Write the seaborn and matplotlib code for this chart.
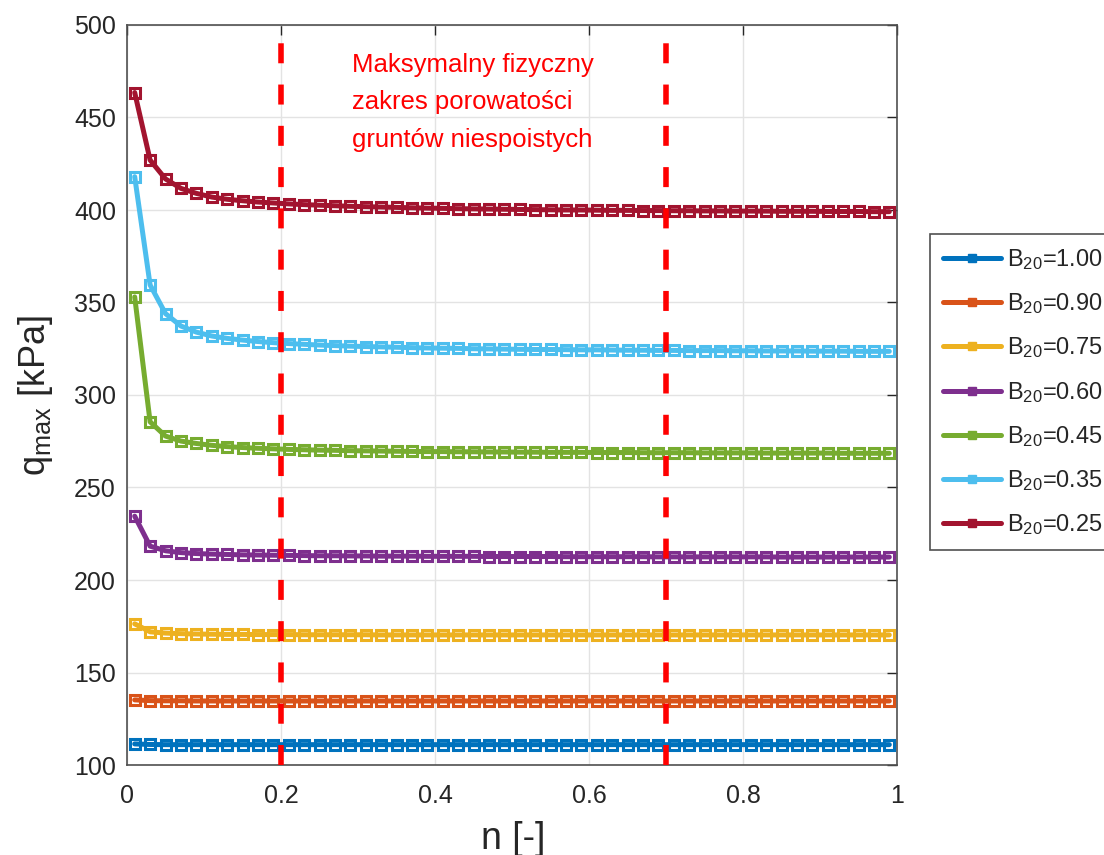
import numpy as np
import pandas as pd
import matplotlib
matplotlib.use("Agg")
import matplotlib.pyplot as plt
from matplotlib.lines import Line2D
import seaborn as sns

# Porosity n [-]
porosity = [0.01, 0.03, 0.05, 0.07, 0.09, 0.11, 0.13, 0.15, 0.17, 0.19,
            0.21, 0.23, 0.25, 0.27, 0.29, 0.31, 0.33, 0.35, 0.37, 0.39,
            0.41, 0.43, 0.45, 0.47, 0.49, 0.51, 0.53, 0.55, 0.57, 0.59,
            0.61, 0.63, 0.65, 0.67, 0.69, 0.71, 0.73, 0.75, 0.77, 0.79,
            0.81, 0.83, 0.85, 0.87, 0.89, 0.91, 0.93, 0.95, 0.97, 0.99]

# Maximum load q_max [kPa] for each B20 value
q_b100 = [111.4, 111.1, 111.0, 111.0, 111.0, 111.0, 111.0, 111.0, 111.0, 111.0,
          111.0, 111.0, 111.0, 111.0, 111.0, 111.0, 111.0, 111.0, 111.0, 111.0,
          111.0, 111.0, 111.0, 111.0, 111.0, 111.0, 111.0, 111.0, 111.0, 111.0,
          111.0, 111.0, 111.0, 111.0, 111.0, 111.0, 111.0, 111.0, 111.0, 111.0,
          111.0, 111.0, 111.0, 111.0, 111.0, 111.0, 111.0, 111.0, 111.0, 111.0]
q_b090 = [135.2, 134.8, 134.7, 134.7, 134.6, 134.6, 134.6, 134.6, 134.6, 134.6,
          134.6, 134.6, 134.6, 134.6, 134.6, 134.6, 134.6, 134.6, 134.6, 134.6,
          134.6, 134.6, 134.6, 134.6, 134.6, 134.6, 134.6, 134.6, 134.6, 134.6,
          134.6, 134.6, 134.6, 134.6, 134.6, 134.6, 134.6, 134.6, 134.6, 134.6,
          134.6, 134.6, 134.6, 134.6, 134.6, 134.6, 134.6, 134.6, 134.6, 134.6]
q_b075 = [176.3, 172.0, 171.3, 171.0, 170.8, 170.7, 170.6, 170.6, 170.5, 170.5,
          170.5, 170.4, 170.4, 170.4, 170.4, 170.4, 170.3, 170.3, 170.3, 170.3,
          170.3, 170.3, 170.3, 170.3, 170.3, 170.3, 170.3, 170.3, 170.3, 170.3,
          170.3, 170.3, 170.3, 170.3, 170.3, 170.3, 170.3, 170.3, 170.3, 170.3,
          170.3, 170.3, 170.3, 170.3, 170.3, 170.3, 170.3, 170.3, 170.3, 170.3]
q_b060 = [234.5, 218.3, 215.8, 214.8, 214.3, 214.0, 213.8, 213.6, 213.5, 213.4,
          213.3, 213.2, 213.1, 213.1, 213.0, 213.0, 212.9, 212.9, 212.9, 212.8,
          212.8, 212.8, 212.8, 212.7, 212.7, 212.7, 212.7, 212.7, 212.6, 212.6,
          212.6, 212.6, 212.6, 212.6, 212.5, 212.5, 212.5, 212.5, 212.5, 212.5,
          212.5, 212.5, 212.4, 212.4, 212.4, 212.4, 212.4, 212.4, 212.4, 212.4]
q_b045 = [353.0, 285.5, 277.8, 275.1, 273.8, 272.8, 272.1, 271.6, 271.2, 270.9,
          270.6, 270.4, 270.2, 270.1, 269.9, 269.8, 269.7, 269.6, 269.5, 269.4,
          269.4, 269.3, 269.3, 269.2, 269.2, 269.1, 269.1, 269.0, 269.0, 269.0,
          268.9, 268.9, 268.9, 268.8, 268.8, 268.8, 268.8, 268.7, 268.7, 268.7,
          268.7, 268.6, 268.6, 268.6, 268.6, 268.6, 268.5, 268.5, 268.5, 268.5]
q_b035 = [418.0, 359.5, 344.0, 337.3, 334.0, 331.9, 330.6, 329.7, 328.9, 328.3,
          327.8, 327.4, 327.0, 326.7, 326.4, 326.2, 326.0, 325.8, 325.6, 325.4,
          325.3, 325.2, 325.0, 324.9, 324.8, 324.7, 324.6, 324.6, 324.5, 324.4,
          324.4, 324.3, 324.2, 324.2, 324.1, 324.1, 324.0, 324.0, 324.0, 323.9,
          323.9, 323.8, 323.8, 323.8, 323.7, 323.7, 323.7, 323.6, 323.6, 323.6]
q_b025 = [463.5, 427.0, 416.8, 411.7, 409.0, 407.0, 405.8, 405.0, 404.3, 403.8,
          403.3, 402.9, 402.6, 402.3, 402.0, 401.8, 401.6, 401.4, 401.2, 401.0,
          400.9, 400.7, 400.6, 400.5, 400.4, 400.3, 400.2, 400.1, 400.0, 400.0,
          399.9, 399.8, 399.8, 399.7, 399.7, 399.6, 399.6, 399.5, 399.5, 399.4,
          399.4, 399.4, 399.3, 399.3, 399.3, 399.2, 399.2, 399.2, 399.1, 399.1]

series_labels = ["1.00", "0.90", "0.75", "0.60", "0.45", "0.35", "0.25"]
series_values = [q_b100, q_b090, q_b075, q_b060, q_b045, q_b035, q_b025]
series_colors = ["#0072BD", "#D95319", "#EDB120", "#7E2F8E",
                 "#77AC30", "#4DBEEE", "#A2142F"]

x_ticks = [0, 0.2, 0.4, 0.6, 0.8, 1]
x_tick_labels = ["0", "0.2", "0.4", "0.6", "0.8", "1"]
y_ticks = [100, 150, 200, 250, 300, 350, 400, 450, 500]

range_bounds = [0.2, 0.7]
note_text = "Maksymalny fizyczny\nzakres porowatości\ngruntów niespoistych"

sns.set_theme(style="white")
plt.rcParams["font.family"] = ["Liberation Sans", "DejaVu Sans"]
plt.rcParams["mathtext.fontset"] = "custom"
plt.rcParams["mathtext.rm"] = "Liberation Sans"
plt.rcParams["mathtext.it"] = "Liberation Sans:italic"
plt.rcParams["mathtext.bf"] = "Liberation Sans:bold"

text_color = "#262626"

frames = [pd.DataFrame({"n": porosity, "q": vals, "B20": lab})
          for lab, vals in zip(series_labels, series_values)]
df = pd.concat(frames, ignore_index=True)

fig = plt.figure(figsize=(11.04, 8.55), dpi=100)
ax = fig.add_axes([127 / 1104, 1 - 765 / 855, 770 / 1104, 740 / 855])

sns.lineplot(data=df, x="n", y="q", hue="B20", hue_order=series_labels,
             palette=series_colors, marker="s", markersize=7.2,
             markerfacecolor="none", markeredgewidth=2.2, linewidth=3.6,
             estimator=None, sort=False, legend=False, ax=ax, zorder=3)
for line in ax.lines:
    line.set_markeredgecolor(line.get_color())

# Bounds of the physically attainable porosity range
for xv in range_bounds:
    ax.axvline(xv, color="red", lw=4, ls=(0, (3.6, 3.83)), zorder=5)

ax.text(0.292, 485, note_text, color="red", fontsize=18.5, va="top", ha="left",
        linespacing=1.72, zorder=6)

ax.set_xlim(0, 1)
ax.set_ylim(100, 500)
ax.set_xticks(x_ticks)
ax.set_xticklabels(x_tick_labels)
ax.set_yticks(y_ticks)
ax.grid(True, color="#e3e3e3", lw=1)
ax.set_axisbelow(True)
ax.tick_params(direction="in", length=7, width=1, top=True, right=True,
               colors=text_color, labelsize=18)
ax.tick_params(axis="y", pad=8)
ax.tick_params(axis="x", pad=14)
for sp in ax.spines.values():
    sp.set_color("#505050")
    sp.set_linewidth(1.2)

ax.set_xlabel("n [-]", fontsize=27, color=text_color)
ax.xaxis.set_label_coords(0.501, -0.075)
ax.set_ylabel(r"q$_{\mathrm{max}}$ [kPa]", fontsize=26, color=text_color)
ax.yaxis.set_label_coords(-0.094, 0.5)

handles = [Line2D([], [], color=c, lw=3.6, marker="s", markersize=6,
                  markerfacecolor=c, markeredgecolor=c)
           for c in series_colors]
labels = [f"B$_{{20}}$={lab}" for lab in series_labels]
leg = fig.legend(handles, labels, loc="upper left",
                 bbox_to_anchor=(930 / 1104, 1 - 234 / 855),
                 bbox_transform=fig.transFigure, borderaxespad=0,
                 fontsize=17, frameon=True, fancybox=False,
                 edgecolor="#505050", framealpha=1, handlelength=2.45,
                 handletextpad=0.25, labelspacing=0.82, borderpad=0.55)
leg.get_frame().set_linewidth(1.2)
for t in leg.get_texts():
    t.set_color(text_color)

fig.savefig("out.png", dpi=100)
